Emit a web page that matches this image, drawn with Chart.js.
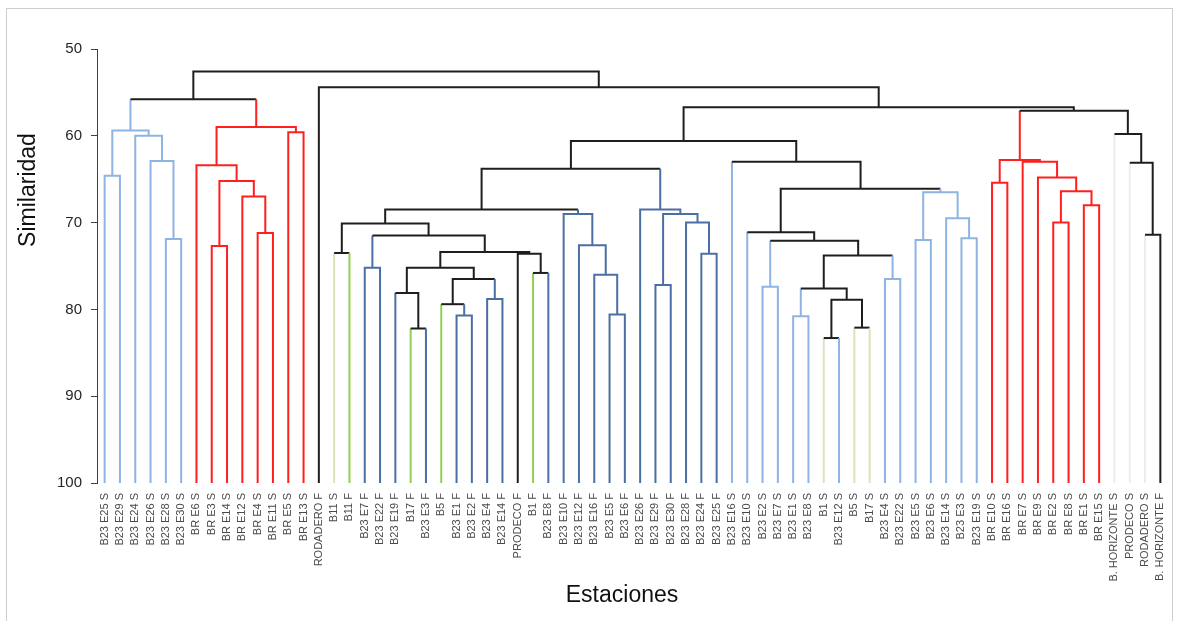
<!DOCTYPE html>
<html lang="es">
<head>
<meta charset="utf-8">
<title>Dendrograma de estaciones</title>
<script src="https://cdn.jsdelivr.net/npm/chart.js@4.4.1/dist/chart.umd.min.js"></script>
<style>
  html, body { margin: 0; padding: 0; background: #fff; }
  #marco { position: absolute; left: 6px; top: 8px; width: 1165px; height: 640px; border: 1px solid #cdcdcd; }
  #lienzo { position: absolute; left: 0; top: 0; }
</style>
</head>
<body>
<div id="marco"></div>
<canvas id="lienzo" width="1180" height="621"></canvas>
<script>
// --- DATOS: hojas del dendrograma (orden de izquierda a derecha) ---
const ESTACIONES = [
    "B23 E25 S", "B23 E29 S", "B23 E24 S", "B23 E26 S", "B23 E28 S", "B23 E30 S",
    "BR E6 S", "BR E3 S", "BR E14 S", "BR E12 S", "BR E4 S", "BR E11 S", "BR E5 S", "BR E13 S",
    "RODADERO F", "B11 S", "B11 F", "B23 E7 F", "B23 E22 F", "B23 E19 F", "B17 F", "B23 E3 F",
    "B5 F", "B23 E1 F", "B23 E2 F", "B23 E4 F", "B23 E14 F", "PRODECO F", "B1 F", "B23 E8 F",
    "B23 E10 F", "B23 E12 F", "B23 E16 F", "B23 E5 F", "B23 E6 F", "B23 E26 F", "B23 E29 F",
    "B23 E30 F", "B23 E28 F", "B23 E24 F", "B23 E25 F", "B23 E16 S", "B23 E10 S", "B23 E2 S",
    "B23 E7 S", "B23 E1 S", "B23 E8 S", "B1 S", "B23 E12 S", "B5 S", "B17 S", "B23 E4 S",
    "B23 E22 S", "B23 E5 S", "B23 E6 S", "B23 E14 S", "B23 E3 S", "B23 E19 S",
    "BR E10 S", "BR E16 S", "BR E7 S", "BR E9 S", "BR E2 S", "BR E8 S", "BR E1 S", "BR E15 S",
    "B. HORIZONTE S", "PRODECO S", "RODADERO S", "B. HORIZONTE F"
];

// grupo (color) de cada hoja
const GRUPO_HOJA = [
    "celeste", "celeste", "celeste", "celeste", "celeste", "celeste",
    "rojo", "rojo", "rojo", "rojo", "rojo", "rojo", "rojo", "rojo",
    "negro", "verdePalido", "verde", "azul", "azul", "azul", "verde", "azul",
    "verde", "azul", "azul", "azul", "azul", "negro", "verde", "azul",
    "azul", "azul", "azul", "azul", "azul", "azul", "azul",
    "azul", "azul", "azul", "azul", "celeste", "celeste", "celeste",
    "celeste", "celeste", "celeste", "verdePalido", "celeste", "verdePalido", "verdePalido", "celeste",
    "celeste", "celeste", "celeste", "celeste", "celeste", "celeste",
    "rojo", "rojo", "rojo", "rojo", "rojo", "rojo", "rojo", "rojo",
    "gris", "gris", "gris", "negro"
];

// fusiones [izquierda, derecha]: indice < 70 = hoja, >= 70 = fusion (indice - 70)
const FUSIONES = [
    [0, 1], [4, 5], [3, 71], [2, 72], [70, 73],
    [7, 8], [10, 11], [9, 76], [75, 77], [6, 78], [12, 13], [79, 80], [74, 81],
    [15, 16], [17, 18], [20, 21], [19, 85], [23, 24], [22, 87], [25, 26], [88, 89],
    [86, 90], [28, 29], [27, 92], [91, 93], [84, 94], [83, 95],
    [33, 34], [32, 97], [31, 98], [30, 99], [96, 100],
    [39, 40], [38, 102], [36, 37], [104, 103], [35, 105], [101, 106],
    [43, 44], [45, 46], [47, 48], [49, 50], [110, 111], [109, 112], [51, 52], [113, 114],
    [108, 115], [42, 116], [53, 54], [56, 57], [55, 119], [118, 120], [117, 121], [41, 122],
    [107, 123],
    [58, 59], [62, 63], [64, 65], [126, 127], [61, 128], [60, 129], [125, 130],
    [68, 69], [67, 132], [66, 133], [131, 134], [124, 135], [14, 136], [82, 137]
];

// similaridad de cada fusion
const SIMILARIDAD = [
    64.6, 71.9, 62.9, 60.0, 59.4,
    72.7, 71.2, 67.0, 65.2, 63.4, 59.6, 59.0, 55.8,
    73.5, 75.2, 82.2, 78.1, 80.7, 79.4, 78.8, 76.5,
    75.2, 75.8, 73.6, 73.4, 71.5, 70.1,
    80.6, 76.0, 72.6, 69.0, 68.5,
    73.6, 70.0, 77.2, 69.0, 68.5, 63.8,
    77.4, 80.8, 83.3, 82.1, 78.9, 77.6, 76.5, 73.8,
    72.1, 71.1, 72.0, 71.8, 69.5, 66.5, 66.1, 63.0,
    60.6,
    65.4, 70.0, 68.0, 66.4, 64.8, 63.0, 62.8,
    71.4, 63.1, 59.8, 57.1, 56.7, 54.4, 52.6
];

// grupo (color) de cada fusion
const GRUPO_FUSION = [
    "celeste", "celeste", "celeste", "celeste", "celeste",
    "rojo", "rojo", "rojo", "rojo", "rojo", "rojo", "rojo", "negro",
    "negro", "azul", "negro", "negro", "azul", "negro", "azul", "negro",
    "negro", "negro", "negro", "negro", "negro", "negro",
    "azul", "azul", "azul", "azul", "negro",
    "azul", "azul", "azul", "azul", "azul", "negro",
    "celeste", "celeste", "negro", "negro", "negro", "negro", "celeste", "negro",
    "negro", "negro", "celeste", "celeste", "celeste", "celeste", "negro", "negro",
    "negro",
    "rojo", "rojo", "rojo", "rojo", "rojo", "rojo", "rojo",
    "negro", "negro", "negro", "negro", "negro", "negro", "negro"
];

// --- ESTILOS ---
const COLORES = {
    celeste: '#8db4e2',
    azul: '#4a6fa5',
    rojo: '#ff1f1f',
    verde: '#92d050',
    verdePalido: '#d8e4bc',
    gris: '#ededed',
    negro: '#1e1e1e'
};
const FUENTE = '"Liberation Sans", Arial, sans-serif';

// --- ARMA UN DATASET POR FUSION (pata izq, barra, pata der) ---
function construirDatasets() {
    const n = ESTACIONES.length;
    const pos = [], alt = [], grp = [];
    ESTACIONES.forEach((_, i) => { pos[i] = i; alt[i] = 100; grp[i] = GRUPO_HOJA[i]; });

    return FUSIONES.map(([a, b], k) => {
        const id = n + k;
        pos[id] = (pos[a] + pos[b]) / 2;
        alt[id] = SIMILARIDAD[k];
        grp[id] = GRUPO_FUSION[k];
        const tramos = [grp[a], grp[id], grp[b]].map(g => COLORES[g]);
        return {
            data: [
                { x: pos[a], y: alt[a] },
                { x: pos[a], y: alt[id] },
                { x: pos[b], y: alt[id] },
                { x: pos[b], y: alt[b] }
            ],
            showLine: true,
            borderWidth: 2,
            borderColor: COLORES[grp[id]],
            borderCapStyle: 'butt',
            borderJoinStyle: 'miter',
            pointRadius: 0,
            tension: 0,
            segment: { borderColor: ctx => tramos[ctx.p0DataIndex] }
        };
    });
}

// titulos de los ejes
const titulosEjes = {
    id: 'titulosEjes',
    afterDraw(chart) {
        const { ctx } = chart;
        ctx.save();
        ctx.fillStyle = '#111';
        ctx.font = '23px ' + FUENTE;
        ctx.textAlign = 'center';
        ctx.textBaseline = 'middle';
        ctx.fillText('Estaciones', 622, 596);
        ctx.translate(29, 190);
        ctx.rotate(-Math.PI / 2);
        ctx.fillText('Similaridad', 0, 0);
        ctx.restore();
    }
};

Chart.defaults.font.family = FUENTE;

new Chart(document.getElementById('lienzo'), {
    type: 'scatter',
    data: { datasets: construirDatasets() },
    plugins: [titulosEjes],
    options: {
        responsive: false,
        animation: false,
        layout: { padding: { top: 49, right: 12, bottom: 0, left: 0 } },
        plugins: { legend: { display: false }, tooltip: { enabled: false } },
        scales: {
            x: {
                type: 'linear',
                min: -0.5,
                max: ESTACIONES.length - 0.5,
                afterBuildTicks: s => { s.ticks = ESTACIONES.map((_, i) => ({ value: i })); },
                afterFit: s => { s.height = 138; },
                grid: { display: false },
                border: { display: false },
                ticks: {
                    autoSkip: false,
                    minRotation: 90,
                    maxRotation: 90,
                    padding: 2,
                    color: '#4a4a4a',
                    font: { size: 11 },
                    callback: v => ESTACIONES[v]
                }
            },
            y: {
                min: 50,
                max: 100,
                reverse: true,
                afterFit: s => { s.width = 97; },
                grid: { drawOnChartArea: false, color: '#404040', tickLength: 6 },
                border: { color: '#404040', width: 1 },
                ticks: {
                    stepSize: 10,
                    padding: 9,
                    color: '#262626',
                    font: { size: 15 }
                }
            }
        }
    }
});
</script>
</body>
</html>
